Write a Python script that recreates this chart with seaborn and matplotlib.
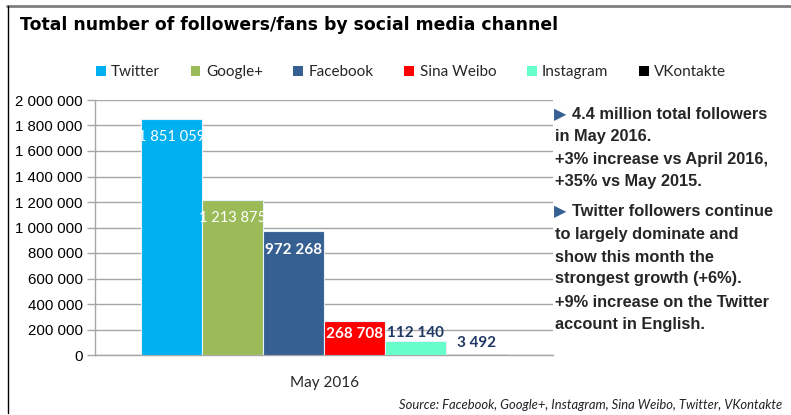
import matplotlib
matplotlib.use("Agg")
import matplotlib.pyplot as plt
from matplotlib.lines import Line2D
from matplotlib.patches import Patch
import seaborn as sns
import pandas as pd

# ---- data ----
period = "May 2016"
channels = ["Twitter", "Google+", "Facebook", "Sina Weibo", "Instagram", "VKontakte"]
followers = [1851059, 1213875, 972268, 268708, 112140, 3492]
colors = ["#00B0F0", "#9BBB59", "#376092", "#FF0000", "#66FFCC", "#000000"]
yticks = [0, 200000, 400000, 600000, 800000, 1000000, 1200000, 1400000,
          1600000, 1800000, 2000000]
title = "Total number of followers/fans by social media channel"
source = "Source: Facebook, Google+, Instagram, Sina Weibo, Twitter, VKontakte"
notes = [
    ("\u25B6", "4.4 million total followers"),
    ("", "in May 2016."),
    ("", "+3% increase vs April 2016,"),
    ("", "+35% vs May 2015."),
    ("\u25B6", "Twitter followers continue"),
    ("", "to largely dominate and"),
    ("", "show this month the"),
    ("", "strongest growth (+6%)."),
    ("", "+9% increase on the Twitter"),
    ("", "account in English."),
]

df = pd.DataFrame({"period": [period] * len(channels),
                   "channel": channels,
                   "followers": followers})

sns.set_theme(style="white")
plt.rcParams["font.family"] = ["Liberation Sans", "DejaVu Sans"]

W, H = 791, 415
fig = plt.figure(figsize=(W / 100, H / 100), dpi=100)
fig.patch.set_facecolor("white")
ax = fig.add_axes([95 / W, 1 - 355 / H, (553 - 95) / W, (355 - 100) / H])

sns.barplot(data=df, x="period", y="followers", hue="channel",
            hue_order=channels, palette=colors, width=0.8, saturation=1,
            edgecolor="#E8F0F8", linewidth=0.8, legend=False, ax=ax, zorder=3)
bars = ax.patches
bars[-1].set_edgecolor("black")

ax.set_ylim(0, 2000000)
ax.set_xlim(-0.5, 0.5)
ax.set_yticks(yticks)
ax.set_yticklabels([f"{v:,.0f}".replace(",", " ") for v in yticks],
                   fontsize=10.8, color="black")
ax.yaxis.grid(True, color="#A6A6A6", linewidth=1, zorder=0)
ax.set_axisbelow(True)
ax.set_xlabel("")
ax.set_ylabel("")
for s in ["top", "right"]:
    ax.spines[s].set_visible(False)
for s in ["left", "bottom"]:
    ax.spines[s].set_color("#A6A6A6")
    ax.spines[s].set_linewidth(1)
ax.tick_params(axis="y", left=True, length=6, width=1, color="#A6A6A6", pad=3)
ax.tick_params(axis="x", bottom=False, pad=9)
for t in ax.get_xticklabels():
    t.set_fontfamily(["Lato", "DejaVu Sans"])
    t.set_fontsize(11)

# ---- bar value labels ----
label_cfg = [
    ("white", -18, "normal", 10.5),
    ("white", -18, "normal", 10.5),
    ("white", -19, "bold", 11),
    ("white", -13, "bold", 11),
    ("#1F3864", 8, "bold", 11),
    ("#1F3864", 12, "bold", 11),
]
for bar, val, (c, dy, fw, fs) in zip(bars, followers, label_cfg):
    xc = bar.get_x() + bar.get_width() / 2
    ax.annotate(f"{val:,.0f}".replace(",", " "), (xc, bar.get_height()),
                xytext=(0, dy), textcoords="offset pixels",
                ha="center", va="center", color=c, fontsize=fs,
                fontweight=fw, family=["Lato", "DejaVu Sans"], zorder=5)

# ---- legend ----
handles = [Patch(facecolor=c, edgecolor="none") for c in colors]
leg = fig.legend(handles, channels, loc="center", ncol=6,
                 bbox_to_anchor=(411 / W, 1 - 72 / H), frameon=False,
                 handlelength=0.65, handleheight=0.65, handletextpad=0.35,
                 columnspacing=2.0, prop={"family": ["Lato", "DejaVu Sans"], "size": 11})

# ---- title ----
fig.text(20 / W, 1 - 25 / H, title, ha="left", va="center", fontsize=12.4,
         fontweight="bold", color="black", family=["DejaVu Sans"])

# ---- notes ----
ys = [114, 136, 159, 181, 211, 234, 257, 279, 302, 324]
for (tri, line), y in zip(notes, ys):
    x0 = 555
    if tri:
        fig.text((x0 - 1) / W, 1 - (y + 1) / H, tri, ha="left", va="center",
                 fontsize=11.5, color="#376092", family=["DejaVu Sans"])
        fig.text((x0 + 17) / W, 1 - y / H, line, ha="left", va="center",
                 fontsize=11.8, fontweight="bold",
                 family=["Liberation Sans Narrow", "Liberation Sans"])
    else:
        fig.text(x0 / W, 1 - y / H, line, ha="left", va="center",
                 fontsize=11.8, fontweight="bold",
                 family=["Liberation Sans Narrow", "Liberation Sans"])

# ---- source ----
fig.text(782 / W, 1 - 405 / H, source, ha="right", va="center", fontsize=9.4,
         style="italic", color="#222222", family=["Lato", "DejaVu Sans"])

# ---- frame lines ----
fig.add_artist(Line2D([7 / W, 1], [1 - 6 / H, 1 - 6 / H], color="#7F7F7F",
                      linewidth=2, transform=fig.transFigure))
fig.add_artist(Line2D([7.5 / W, 7.5 / W], [1 - 413 / H, 1 - 6 / H],
                      color="black", linewidth=1, transform=fig.transFigure))

fig.savefig("out.png", dpi=100)
